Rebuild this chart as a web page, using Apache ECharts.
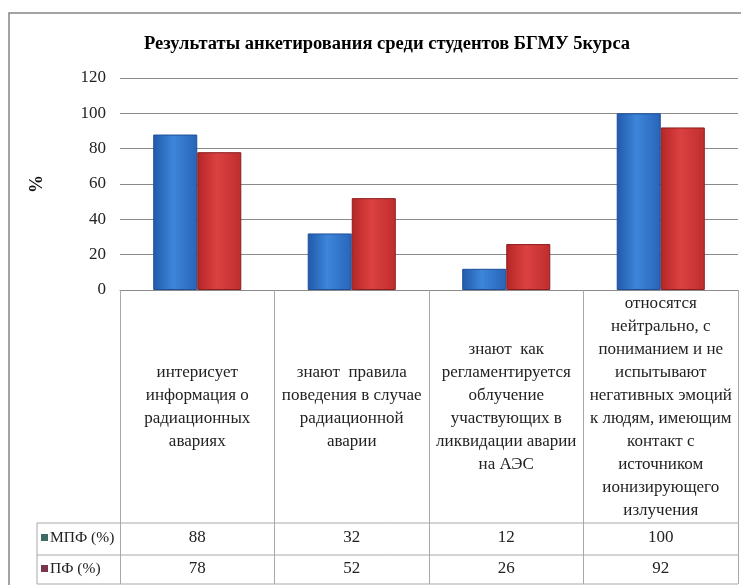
<!DOCTYPE html>
<html><head><meta charset="utf-8">
<script src="https://cdn.jsdelivr.net/npm/echarts@6/dist/echarts.min.js"></script>
<style>html,body{margin:0;padding:0;background:#fff}#c{width:741px;height:585px}</style>
</head><body><div id="c"></div>
<script>
const title = 'Результаты анкетирования среди студентов БГМУ 5курса';
const categories = [
  'интерисует\nинформация о\nрадиационных\nавариях',
  'знают  правила\nповедения в случае\nрадиационной\nаварии',
  'знают  как\nрегламентируется\nоблучение\nучаствующих в\nликвидации аварии\nна АЭС',
  'относятся\nнейтрально, с\nпониманием и не\nиспытывают\nнегативных эмоций\nк людям, имеющим\nконтакт с\nисточником\nионизирующего\nизлучения'
];
const seriesNames = ['МПФ (%)', 'ПФ (%)'];
const mpf = [88, 32, 12, 100];
const pf = [78, 52, 26, 92];
const yTicks = [0, 20, 40, 60, 80, 100, 120];

const serif = '"Liberation Serif", "DejaVu Serif", serif';
const chart = echarts.init(document.getElementById('c'));
const G = {left: 120, right: 3, top: 78, bottom: 295};

function valAxis(data, margin) {
  return {
    type: 'category', gridIndex: 0, position: 'bottom', data: data.map(String),
    axisLine: {show: false}, axisTick: {show: false}, splitLine: {show: false},
    axisLabel: {interval: 0, margin: margin, verticalAlign: 'middle', fontFamily: serif, fontSize: 17, color: '#222'}
  };
}

chart.setOption({
  animation: false,
  backgroundColor: '#fff',
  title: {text: title, left: 382, top: 30, textAlign: 'center',
    textStyle: {fontFamily: serif, fontWeight: 'bold', fontSize: 18.5, color: '#000'}},
  grid: G,
  xAxis: [
    {type: 'category', data: categories, position: 'bottom',
      axisLine: {lineStyle: {color: '#8a8a8a', width: 1}},
      axisTick: {show: true, length: 294, lineStyle: {color: '#a8a8a8'}},
      axisLabel: {interval: 0, margin: 117, verticalAlign: 'middle', lineHeight: 23,
        fontFamily: serif, fontSize: 17, color: '#222', align: 'center'}},
    valAxis(mpf, 248),
    valAxis(pf, 279)
  ],
  yAxis: {type: 'value', min: yTicks[0], max: yTicks[yTicks.length - 1], interval: 20,
    name: '%', nameLocation: 'middle', nameGap: 74, nameRotate: 90,
    nameTextStyle: {fontFamily: serif, fontWeight: 'bold', fontSize: 18, color: '#111'},
    axisLine: {show: false}, axisTick: {show: false},
    axisLabel: {margin: 14, fontFamily: serif, fontSize: 17, color: '#222'},
    splitLine: {lineStyle: {color: '#8a8a8a', width: 1}}},
  series: [
    {name: seriesNames[0], type: 'bar', data: mpf, barGap: '0%', barCategoryGap: '43%',
      itemStyle: {borderColor: '#1d4f98', borderWidth: 1,
        color: {type: 'linear', x: 0, y: 0, x2: 1, y2: 0, colorStops: [
          {offset: 0, color: '#2159ab'}, {offset: 0.45, color: '#3d86da'}, {offset: 1, color: '#2864b8'}]}}},
    {name: seriesNames[1], type: 'bar', data: pf,
      itemStyle: {borderColor: '#8c1d1d', borderWidth: 1,
        color: {type: 'linear', x: 0, y: 0, x2: 1, y2: 0, colorStops: [
          {offset: 0, color: '#b52626'}, {offset: 0.45, color: '#dc4141'}, {offset: 1, color: '#bf2d2d'}]}}}
  ],
  graphic: [
    {type: 'polyline', shape: {points: [[9, 600], [9, 13], [760, 13]]}, style: {stroke: '#858585', lineWidth: 1.5, fill: null}},
    {type: 'line', shape: {x1: 37, y1: 523, x2: 738, y2: 523}, style: {stroke: '#a8a8a8', lineWidth: 1}},
    {type: 'line', shape: {x1: 37, y1: 555, x2: 738, y2: 555}, style: {stroke: '#a8a8a8', lineWidth: 1}},
    {type: 'line', shape: {x1: 37, y1: 584, x2: 738, y2: 584}, style: {stroke: '#a8a8a8', lineWidth: 1}},
    {type: 'line', shape: {x1: 37, y1: 523, x2: 37, y2: 584}, style: {stroke: '#a8a8a8', lineWidth: 1}},
    {type: 'rect', shape: {x: 41, y: 534, width: 7, height: 7}, style: {fill: '#3e6b66'}},
    {type: 'rect', shape: {x: 41, y: 565, width: 7, height: 7}, style: {fill: '#7a3648'}},
    {type: 'text', x: 50, y: 538, style: {text: seriesNames[0], fontFamily: serif, fontSize: 15.5, fill: '#222', verticalAlign: 'middle'}},
    {type: 'text', x: 50, y: 569, style: {text: seriesNames[1], fontFamily: serif, fontSize: 15.5, fill: '#222', verticalAlign: 'middle'}}
  ]
});
</script></body></html>
